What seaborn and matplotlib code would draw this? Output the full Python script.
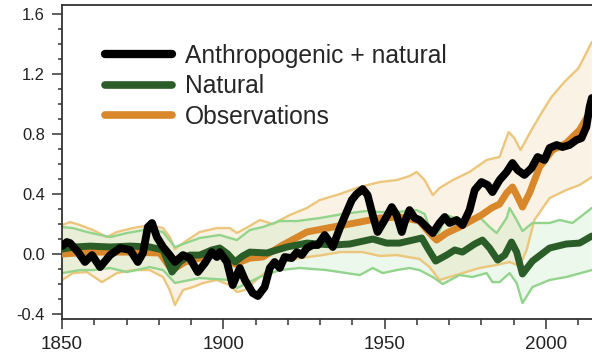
import numpy as np
import matplotlib
matplotlib.use("Agg")
import matplotlib.pyplot as plt
from matplotlib.lines import Line2D
from matplotlib.ticker import MultipleLocator
import seaborn as sns

# --- Global temperature anomaly (deg C) ---------------------------------
# Anthropogenic + natural
anthro_years = [1850.0, 1851.5, 1852.5, 1855.0, 1857.1, 1859.3, 1861.8, 1864.9, 1868.0, 1871.1,
                1873.5, 1875.1, 1876.6, 1877.9, 1879.4, 1881.3, 1883.4, 1885.0, 1887.5, 1889.6,
                1892.1, 1894.3, 1896.4, 1898.0, 1898.9, 1901.1, 1902.9, 1905.1, 1906.7, 1909.1,
                1910.7, 1912.8, 1914.4, 1915.9, 1917.5, 1919.0, 1921.2, 1922.8, 1924.3, 1925.9,
                1927.7, 1929.3, 1931.4, 1933.0, 1933.9, 1936.1, 1938.2, 1939.8, 1941.3, 1943.2,
                1944.7, 1946.3, 1947.8, 1950.0, 1952.2, 1953.7, 1955.3, 1956.2, 1957.7, 1959.3,
                1960.8, 1963.0, 1964.9, 1967.0, 1968.6, 1970.1, 1972.3, 1974.1, 1976.3, 1977.9,
                1980.0, 1981.9, 1983.4, 1985.6, 1987.8, 1989.6, 1991.2, 1993.3, 1995.5, 1997.4,
                1999.5, 2001.1, 2003.3, 2005.1, 2007.3, 2009.4, 2011.0, 2012.5, 2013.5, 2014.2]
anthro_vals = [0.053, 0.080, 0.073, 0.013, -0.053, -0.007, -0.087, -0.007, 0.040, 0.027,
               -0.053, 0.007, 0.180, 0.207, 0.113, 0.047, -0.007, -0.053, -0.007, -0.027,
               -0.120, -0.060, 0.013, -0.020, 0.013, -0.053, -0.207, -0.093, -0.173, -0.260,
               -0.280, -0.220, -0.093, -0.053, -0.093, -0.020, -0.027, 0.013, -0.007, 0.040,
               0.060, 0.060, 0.127, 0.080, 0.047, 0.173, 0.280, 0.360, 0.400, 0.433,
               0.393, 0.260, 0.147, 0.227, 0.313, 0.260, 0.147, 0.213, 0.293, 0.240,
               0.227, 0.180, 0.140, 0.207, 0.247, 0.207, 0.227, 0.193, 0.293, 0.427,
               0.480, 0.460, 0.413, 0.493, 0.547, 0.607, 0.560, 0.527, 0.573, 0.647,
               0.627, 0.707, 0.727, 0.713, 0.727, 0.760, 0.773, 0.847, 0.980, 1.040]

# Natural
natural_years = [1850.0, 1854.0, 1858.7, 1864.9, 1871.1, 1877.2, 1881.3, 1884.1, 1886.5, 1889.6,
                 1892.7, 1896.4, 1898.9, 1901.4, 1903.6, 1906.0, 1908.2, 1913.5, 1919.7, 1925.9,
                 1933.9, 1939.2, 1946.3, 1950.6, 1954.6, 1958.7, 1961.5, 1963.3, 1965.8, 1969.2,
                 1971.7, 1974.1, 1977.9, 1980.3, 1982.5, 1985.0, 1987.2, 1989.3, 1990.9, 1992.7,
                 1995.8, 2001.1, 2006.3, 2010.4, 2014.2]
natural_vals = [0.033, 0.047, 0.053, 0.047, 0.053, 0.047, 0.027, -0.120, -0.053, -0.007,
                -0.007, 0.027, 0.040, 0.000, -0.053, -0.013, 0.013, 0.007, 0.047, 0.073,
                0.060, 0.067, 0.100, 0.073, 0.073, 0.093, 0.107, 0.040, -0.047, -0.007,
                0.027, 0.013, 0.067, 0.093, 0.040, -0.040, -0.007, 0.080, 0.013, -0.133,
                -0.047, 0.040, 0.067, 0.073, 0.120]

# Observations
obs_years = [1850.0, 1858.7, 1871.1, 1880.3, 1884.1, 1888.1, 1892.7, 1898.9, 1903.6, 1908.2,
             1912.2, 1918.4, 1925.9, 1933.9, 1942.3, 1948.5, 1954.6, 1960.8, 1963.9, 1966.1,
             1969.2, 1973.2, 1977.2, 1980.0, 1983.1, 1985.6, 1987.8, 1989.6, 1991.2, 1992.7,
             1994.9, 1998.0, 2002.0, 2006.3, 2010.4, 2013.5, 2014.2]
obs_vals = [0.000, 0.013, 0.013, 0.007, -0.107, -0.053, -0.027, 0.007, -0.067, -0.027,
            -0.020, 0.060, 0.147, 0.180, 0.213, 0.240, 0.247, 0.220, 0.140, 0.093,
            0.140, 0.180, 0.227, 0.260, 0.307, 0.333, 0.407, 0.447, 0.380, 0.313,
            0.407, 0.580, 0.693, 0.740, 0.827, 0.940, 0.973]

# Uncertainty range around the observations
obs_hi_years = [1850.0, 1852.5, 1855.6, 1859.6, 1863.9, 1867.0, 1872.0, 1877.2, 1881.3, 1883.4,
                1885.0, 1887.5, 1892.7, 1898.0, 1902.0, 1904.2, 1908.2, 1911.3, 1915.3, 1920.6,
                1925.9, 1929.9, 1936.1, 1941.3, 1944.7, 1948.5, 1953.7, 1957.7, 1959.9, 1962.4,
                1964.9, 1967.0, 1971.1, 1976.3, 1981.6, 1985.6, 1988.4, 1990.2, 1992.1, 1995.5,
                1998.6, 2001.7, 2005.7, 2010.1, 2014.2]
obs_hi_vals = [0.193, 0.213, 0.193, 0.160, 0.113, 0.147, 0.173, 0.193, 0.173, 0.113,
               0.033, 0.073, 0.147, 0.173, 0.173, 0.140, 0.187, 0.227, 0.200, 0.260,
               0.307, 0.360, 0.400, 0.440, 0.460, 0.480, 0.493, 0.520, 0.547, 0.493,
               0.393, 0.440, 0.493, 0.547, 0.627, 0.647, 0.813, 0.773, 0.693, 0.827,
               0.940, 1.047, 1.147, 1.240, 1.413]
obs_lo_years = [1850.0, 1853.4, 1857.7, 1862.4, 1867.0, 1872.0, 1877.2, 1881.3, 1883.4, 1885.0,
                1887.5, 1890.6, 1893.7, 1898.0, 1902.0, 1904.2, 1906.7, 1911.3, 1916.6, 1923.7,
                1930.8, 1936.1, 1943.2, 1948.5, 1953.7, 1960.8, 1963.9, 1967.0, 1970.1, 1974.1,
                1979.4, 1984.7, 1988.7, 1991.8, 1994.0, 1996.4, 2001.1, 2006.3, 2010.4, 2014.2]
obs_lo_vals = [-0.173, -0.127, -0.120, -0.187, -0.127, -0.107, -0.107, -0.153, -0.240, -0.340,
               -0.240, -0.220, -0.193, -0.173, -0.207, -0.253, -0.240, -0.153, -0.060, -0.027,
               -0.007, 0.013, 0.013, -0.013, -0.007, -0.033, -0.087, -0.173, -0.153, -0.127,
               -0.093, -0.073, -0.053, -0.080, 0.027, 0.227, 0.373, 0.427, 0.460, 0.513]

# Range of the natural-only simulations
nat_hi_years = [1850.0, 1853.4, 1857.7, 1864.9, 1870.1, 1877.2, 1881.3, 1885.0, 1892.7, 1898.9,
                1904.2, 1908.2, 1912.2, 1917.5, 1922.8, 1929.9, 1937.0, 1944.4, 1948.5, 1953.7,
                1959.9, 1962.4, 1963.9, 1966.1, 1969.2, 1973.2, 1979.4, 1982.5, 1984.7, 1987.8,
                1988.7, 1990.9, 1992.7, 1995.8, 2001.1, 2004.2, 2008.2, 2014.2]
nat_hi_vals = [0.180, 0.173, 0.147, 0.113, 0.140, 0.167, 0.147, 0.047, 0.107, 0.127,
               0.093, 0.160, 0.180, 0.220, 0.220, 0.240, 0.267, 0.287, 0.280, 0.280,
               0.293, 0.267, 0.173, 0.113, 0.260, 0.227, 0.247, 0.180, 0.140, 0.240,
               0.307, 0.227, 0.153, 0.207, 0.207, 0.227, 0.207, 0.307]
nat_lo_years = [1850.0, 1855.6, 1859.6, 1864.9, 1870.1, 1877.2, 1881.3, 1885.0, 1892.7, 1902.0,
                1904.2, 1911.3, 1917.5, 1923.7, 1932.0, 1942.3, 1946.3, 1949.4, 1953.7, 1957.7,
                1960.8, 1964.9, 1968.0, 1973.2, 1977.2, 1981.6, 1983.4, 1985.6, 1988.7, 1990.9,
                1992.7, 1995.8, 2001.1, 2006.3, 2014.2]
nat_lo_vals = [-0.127, -0.107, -0.107, -0.093, -0.120, -0.087, -0.107, -0.193, -0.160, -0.173,
               -0.227, -0.153, -0.107, -0.093, -0.107, -0.140, -0.093, -0.127, -0.107, -0.093,
               -0.107, -0.153, -0.200, -0.140, -0.153, -0.127, -0.187, -0.187, -0.127, -0.193,
               -0.327, -0.220, -0.173, -0.153, -0.107]

legend_labels = ["Anthropogenic + natural", "Natural", "Observations"]
x_tick_labels = ["1850", "1900", "1950", "2000"]
y_tick_labels = ["-0.4", "0.0", "0.4", "0.8", "1.2", "1.6"]

# --- Styling -------------------------------------------------------------
sns.set_theme(style="ticks")
plt.rcParams["font.family"] = ["Liberation Sans", "DejaVu Sans"]

BLACK = "#000000"
DARK_GREEN = "#2b5d28"
ORANGE = "#d9872b"
TAN_EDGE = "#ecc67c"
TAN_FILL = "#f2dcb0"
GREEN_EDGE = "#93d48d"
GREEN_FILL = "#a8dca0"

fig = plt.figure(figsize=(5.92, 3.60), dpi=100)
ax = fig.add_axes([62 / 592, 41 / 360, 530 / 592, 314 / 360])

# shaded ranges
ax.fill(np.r_[obs_hi_years, obs_lo_years[::-1]], np.r_[obs_hi_vals, obs_lo_vals[::-1]],
        color=TAN_FILL, alpha=0.32, lw=0, zorder=1)
ax.fill(np.r_[nat_hi_years, nat_lo_years[::-1]], np.r_[nat_hi_vals, nat_lo_vals[::-1]],
        color=GREEN_FILL, alpha=0.2, lw=0, zorder=1)

edge_kw = dict(ax=ax, estimator=None, sort=False, legend=False, linewidth=1.7)
for xs, ys, c in [(obs_hi_years, obs_hi_vals, TAN_EDGE), (obs_lo_years, obs_lo_vals, TAN_EDGE),
                  (nat_hi_years, nat_hi_vals, GREEN_EDGE), (nat_lo_years, nat_lo_vals, GREEN_EDGE)]:
    sns.lineplot(x=xs, y=ys, color=c, **edge_kw)

line_kw = dict(ax=ax, estimator=None, sort=False, legend=False)
sns.lineplot(x=obs_years, y=obs_vals, color=ORANGE, linewidth=5.0, **line_kw)
sns.lineplot(x=natural_years, y=natural_vals, color=DARK_GREEN, linewidth=5.0, **line_kw)
sns.lineplot(x=anthro_years, y=anthro_vals, color=BLACK, linewidth=5.6, **line_kw)

for i, ln in enumerate(ax.lines):
    ln.set_solid_joinstyle("round")
    ln.set_solid_capstyle("round")
    ln.set_zorder(2 if i < 4 else 3 + (i - 4))

# axes limits and ticks
ax.set_xlim(1850, 2014.25)
ax.set_ylim(-0.433, 1.66)
ax.set_xticks([int(t) for t in x_tick_labels])
ax.set_xticklabels(x_tick_labels)
ax.set_yticks([float(t) for t in y_tick_labels])
ax.set_yticklabels(y_tick_labels)
ax.xaxis.set_minor_locator(MultipleLocator(10))
ax.yaxis.set_minor_locator(MultipleLocator(0.1))
ax.tick_params(axis="x", which="major", length=7.5, width=1.1, labelsize=13.6, pad=4.5,
               colors="#333333", labelcolor="#222222")
ax.tick_params(axis="x", which="minor", length=4.3, width=1.1, colors="#333333")
ax.tick_params(axis="y", which="major", length=7.2, width=1.1, labelsize=11.9, pad=5,
               colors="#333333", labelcolor="#222222")
ax.tick_params(axis="y", which="minor", length=3.0, width=1.1, colors="#333333")
ax.set_xlabel("")
ax.set_ylabel("")

for side in ["left", "bottom", "top"]:
    ax.spines[side].set_color("#333333")
    ax.spines[side].set_linewidth(1.3)
ax.spines["right"].set_visible(False)

handles = [Line2D([], [], color=BLACK, lw=6),
           Line2D([], [], color=DARK_GREEN, lw=5.5),
           Line2D([], [], color=ORANGE, lw=5.5)]
ax.legend(handles, legend_labels, loc="upper left", bbox_to_anchor=(0.081, 0.877),
          frameon=False, fontsize=17.7, handlelength=2.72, handletextpad=0.52,
          labelspacing=0.27, borderpad=0, borderaxespad=0)

fig.savefig("out.png", dpi=100)
